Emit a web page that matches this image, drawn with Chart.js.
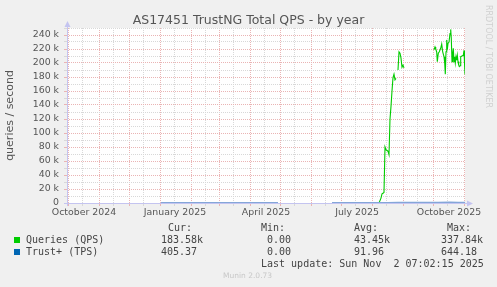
<!DOCTYPE html>
<html>
<head>
<meta charset="utf-8">
<script src="https://cdn.jsdelivr.net/npm/chart.js@4"></script>
<style>
  html, body { margin: 0; padding: 0; background: #f0f0f0; }
  #wrap { position: relative; width: 497px; height: 287px; overflow: hidden; font-family: "DejaVu Sans", sans-serif; color: #555; }
  #c { position: absolute; left: 0; top: 0; }
  .t { position: absolute; white-space: pre; }
  #title { left: 0; width: 497px; text-align: center; top: 12px; font-size: 12.5px; line-height: 15px; }
  .mono { font-family: "DejaVu Sans Mono", monospace; font-size: 10px; line-height: 12px; color: #444; }
  .sw { position: absolute; width: 6px; height: 6px; }
  #rrd { left: 484px; top: 5px; writing-mode: vertical-rl; font-size: 8px; line-height: 8px; color: #d0d0d0; }
  #munin { left: 223px; top: 271px; font-size: 7.5px; line-height: 9px; color: #c8c8c8; }
</style>
</head>
<body>
<div id="wrap">
  <canvas id="c" width="497" height="287"></canvas>
  <div class="t" id="title">AS17451 TrustNG Total QPS - by year</div>
  <div class="t" id="rrd">RRDTOOL / TOBI OETIKER</div>
  <div id="legend"></div>
  <div class="t" id="munin">Munin 2.0.73</div>
</div>
<script>
// x values are days since 1 Oct 2024
const monthStartDays = [0, 31, 61, 92, 123, 151, 182, 212, 243, 273, 304, 335, 365, 396];
const quarterLabels = ['October 2024', 'January 2025', 'April 2025', 'July 2025', 'October 2025'];
const quarterLabelDays = [16, 107, 198, 289, 381];

// Queries (QPS), null = no data
const qpsDays = [93, 210, 211, 264, 311, 313, 314, 315, 316, 317, 318, 320, 321, 322, 323, 324, 325, 326, 327, 328, 329,
  330, 331, 332, 333, 334, 335, 336, 337,
  366, 367, 367.7, 368.7, 369.3, 370.3, 371.3, 372.7, 373.7, 374.7, 376, 376.7, 377.3, 378, 378.7, 379.3, 380, 381,
  382, 382.7, 383.3, 384, 384.7, 385.3, 386, 386.7, 387.3, 388, 388.7, 389.3, 390, 390.7, 391.3, 392, 392.7, 394,
  395.3, 396, 396.5, 397];
const qpsValues = [0, 0, null, 0, 0, 7000, 13000, 14000, 15000, 80000, 76000, 74000, 69000, 120000, 138000, 160000, 179000, 184000, 176000, 178000, null,
  190000, 216000, 214000, 207000, 194000, 197000, 193000, null,
  219000, 223000, 220000, 216000, 202000, 214000, 216000, 221000, 227000, 216000, 209000, 200000, 184000, 216000, 233000, 219000, 228000, 230000,
  242000, 248000, 235000, 202000, 214000, 221000, 202000, 209000, 200000, 209000, 204000, 211000, 202000, 197000, 195000, 196000, 209000, 210000,
  211000, 218000, 200000, 183580];

// Trust+ (TPS)
const tpsDays = [93, 210, 211, 264, 311, 320, 330, 340, 350, 360, 370, 382, 390, 397];
const tpsValues = [0, 0, null, 0, 0, 120, 380, 420, 400, 410, 450, 644, 480, 405];

const seriesNames = ['Queries (QPS)', 'Trust+ (TPS)'];
const curValues = ['183.58k', '405.37'];
const minValues = ['0.00', '0.00'];
const avgValues = ['43.45k', '91.96'];
const maxValues = ['337.84k', '644.18'];
const lastUpdate = 'Last update: Sun Nov  2 07:02:15 2025';

const colors = ['#00cc00', '#0066b3'];
const tpsLine = '#84a6d8'; // how the thin blue line shows on the zero line
const majorGrid = '#eab4b4';
const minorGrid = '#d8d8d8';
const axisColor = '#c4c4f0';

// legend below the graph
const legend = document.getElementById('legend');
function put(text, left, top, cls) {
  const d = document.createElement('div');
  d.className = 't ' + (cls || 'mono');
  d.style.left = left + 'px';
  d.style.top = top + 'px';
  d.textContent = text;
  legend.appendChild(d);
}
put('Cur:', 168, 221.5); put('Min:', 261, 221.5); put('Avg:', 354, 221.5); put('Max:', 447, 221.5);
seriesNames.forEach((name, i) => {
  const top = 233.5 + i * 12;
  const sw = document.createElement('div');
  sw.className = 'sw';
  sw.style.left = '14px';
  sw.style.top = (top + 3.5) + 'px';
  sw.style.background = colors[i];
  legend.appendChild(sw);
  put(name, 26, top);
  put(curValues[i], 161, top);
  put(minValues[i], 267, top);
  put(avgValues[i], 354, top);
  put(maxValues[i], 441, top);
});
put(lastUpdate, 261, 257.5);

const toPoints = (xs, ys) => xs.map((x, i) => ({ x: x, y: ys[i] }));

const plotDecor = {
  id: 'plotDecor',
  beforeDraw(chart) {
    const a = chart.chartArea, ctx = chart.ctx;
    ctx.save();
    ctx.fillStyle = '#ffffff';
    ctx.fillRect(a.left, a.top, a.right - a.left, a.bottom - a.top);
    ctx.restore();
  },
  beforeDatasetsDraw(chart) {
    const a = chart.chartArea, ctx = chart.ctx;
    const xl = a.left + 0.5, yb = a.bottom + 0.5;
    ctx.save();
    ctx.strokeStyle = axisColor;
    ctx.fillStyle = axisColor;
    ctx.lineWidth = 1;
    ctx.beginPath();
    ctx.moveTo(a.left - 3, yb); ctx.lineTo(a.right + 3, yb);
    ctx.moveTo(xl, a.bottom + 3); ctx.lineTo(xl, a.top - 2);
    ctx.stroke();
    ctx.beginPath();
    ctx.moveTo(a.right + 2, yb - 3); ctx.lineTo(a.right + 8, yb); ctx.lineTo(a.right + 2, yb + 3);
    ctx.closePath(); ctx.fill();
    ctx.beginPath();
    ctx.moveTo(xl - 3, a.top - 1); ctx.lineTo(xl, a.top - 7); ctx.lineTo(xl + 3, a.top - 1);
    ctx.closePath(); ctx.fill();
    ctx.restore();
  }
};

const tickFont = { family: 'DejaVu Sans', size: 9.4 };
const xGridColor = c => c.tick.kind === 'major' ? majorGrid : (c.tick.kind === 'minor' ? minorGrid : 'rgba(0,0,0,0)');
const yGridColor = c => c.tick.value % 20000 ? minorGrid : majorGrid;

new Chart(document.getElementById('c'), {
  type: 'line',
  data: {
    datasets: [{
      label: seriesNames[0],
      data: toPoints(qpsDays, qpsValues),
      borderColor: colors[0],
      borderWidth: 1.1,
      pointRadius: 0,
      tension: 0,
      spanGaps: false,
      order: 2
    }, {
      label: seriesNames[1],
      data: toPoints(tpsDays, tpsValues),
      borderColor: tpsLine,
      borderWidth: 2,
      pointRadius: 0,
      tension: 0,
      spanGaps: false,
      order: 1
    }]
  },
  options: {
    responsive: false,
    animation: false,
    devicePixelRatio: 1,
    layout: { padding: { left: 0, top: 28, right: 32, bottom: 64 } },
    plugins: { legend: { display: false }, title: { display: false }, tooltip: { enabled: false } },
    scales: {
      x: {
        type: 'linear',
        min: -1,
        max: 397,
        afterFit: s => { s.height = 20; },
        afterBuildTicks: axis => {
          const t = [];
          monthStartDays.forEach(v => t.push({ value: v, kind: 'major' }));
          monthStartDays.map(v => v + 14).filter(v => v < 397).forEach(v => t.push({ value: v, kind: 'minor' }));
          quarterLabelDays.forEach((v, i) => t.push({ value: v, kind: 'label', text: quarterLabels[i] }));
          t.sort((p, q) => p.value - q.value);
          axis.ticks = t;
        },
        ticks: {
          autoSkip: false, maxRotation: 0, minRotation: 0, padding: 1,
          color: '#555', font: tickFont,
          callback: (v, i, ticks) => ticks[i].text || ''
        },
        grid: { color: xGridColor, tickColor: xGridColor, tickLength: 3, lineWidth: 1 },
        border: { display: false, dash: [1, 1] }
      },
      y: {
        min: 0,
        max: 250000,
        afterFit: s => { s.width = 67; },
        ticks: {
          stepSize: 10000, autoSkip: false, padding: 5,
          color: '#555', font: tickFont,
          callback: v => v % 20000 ? '' : (v === 0 ? '0' : (v / 1000) + ' k')
        },
        grid: { color: yGridColor, tickColor: yGridColor, tickLength: 3, lineWidth: 1 },
        border: { display: false, dash: [1, 1] },
        title: {
          display: true, text: 'queries / second', color: '#555',
          font: { family: 'DejaVu Sans', size: 11 },
          padding: { top: 4, bottom: 0 }
        }
      }
    }
  },
  plugins: [plotDecor]
});
</script>
</body>
</html>
